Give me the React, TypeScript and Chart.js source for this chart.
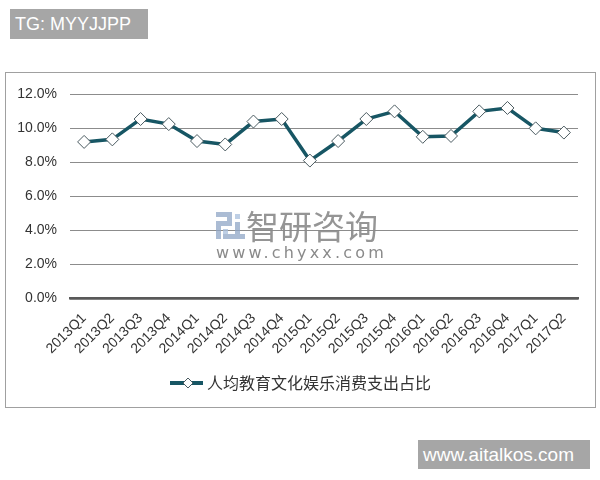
import React, { useEffect, useRef } from "react";
import { Chart, registerables } from "chart.js";

Chart.register(...registerables);

const categories = [
  "2013Q1", "2013Q2", "2013Q3", "2013Q4",
  "2014Q1", "2014Q2", "2014Q3", "2014Q4",
  "2015Q1", "2015Q2", "2015Q3", "2015Q4",
  "2016Q1", "2016Q2", "2016Q3", "2016Q4",
  "2017Q1", "2017Q2",
];

const shareValues = [
  9.2, 9.35, 10.55, 10.25,
  9.25, 9.05, 10.4, 10.55,
  8.1, 9.25, 10.55, 11.0,
  9.5, 9.55, 11.0, 11.2,
  10.0, 9.75,
];

const seriesName = "人均教育文化娱乐消费支出占比";

const LINE_COLOR = "#175664";
const MARKER_BORDER = "#4a5a60";

const legendPlugin = {
  id: "customLegend",
  afterDraw(chart: any) {
    const ctx = chart.ctx;
    const y = 310;
    ctx.save();
    ctx.strokeStyle = LINE_COLOR;
    ctx.lineWidth = 4;
    ctx.beginPath();
    ctx.moveTo(164, y);
    ctx.lineTo(197, y);
    ctx.stroke();
    const cx = 182;
    const r = 5;
    ctx.beginPath();
    ctx.moveTo(cx - r, y);
    ctx.lineTo(cx, y - r);
    ctx.lineTo(cx + r, y);
    ctx.lineTo(cx, y + r);
    ctx.closePath();
    ctx.fillStyle = "#ffffff";
    ctx.fill();
    ctx.strokeStyle = MARKER_BORDER;
    ctx.lineWidth = 1;
    ctx.stroke();
    ctx.fillStyle = "#333333";
    ctx.font = '16px "Noto Sans CJK SC", sans-serif';
    ctx.textBaseline = "middle";
    ctx.textAlign = "left";
    ctx.fillText(seriesName, 201, y);
    ctx.restore();
  },
};

function ChartCanvas() {
  const ref = useRef<HTMLCanvasElement | null>(null);
  useEffect(() => {
    if (!ref.current) return;
    const chart = new Chart(ref.current, {
      type: "line",
      data: {
        labels: categories,
        datasets: [
          {
            label: seriesName,
            data: shareValues,
            borderColor: LINE_COLOR,
            borderWidth: 3.5,
            backgroundColor: "#ffffff",
            pointStyle: "rectRot",
            pointRadius: 6.5,
            pointBackgroundColor: "#ffffff",
            pointBorderColor: MARKER_BORDER,
            pointBorderWidth: 1,
            tension: 0,
          },
        ],
      },
      options: {
        animation: false,
        responsive: false,
        maintainAspectRatio: false,
        layout: { padding: { top: 14, right: 17, left: 0, bottom: 38 } },
        plugins: {
          legend: { display: false },
          tooltip: { enabled: false },
        },
        scales: {
          x: {
            offset: true,
            grid: { display: false, drawTicks: false },
            border: { display: true, color: "#595959", width: 2.5 },
            ticks: {
              autoSkip: false,
              maxRotation: 45,
              minRotation: 45,
              padding: 12,
              color: "#333333",
              font: { family: '"Liberation Sans", Arial, sans-serif', size: 14 },
            },
            afterFit: (scale: any) => {
              scale.height = 70;
            },
          },
          y: {
            min: 0,
            max: 12,
            ticks: {
              stepSize: 2,
              padding: 13,
              color: "#333333",
              font: { family: '"Liberation Sans", Arial, sans-serif', size: 14 },
              callback: (v: any) => Number(v).toFixed(1) + "%",
            },
            grid: {
              drawTicks: false,
              color: (c: any) => (c.tick && c.tick.value === 0 ? "#595959" : "#8c8c8c"),
              lineWidth: (c: any) => (c.tick && c.tick.value === 0 ? 2.5 : 1),
            },
            border: { display: false },
            afterFit: (scale: any) => {
              scale.width = 64;
            },
          },
        },
      },
      plugins: [legendPlugin],
    });
    return () => chart.destroy();
  }, []);
  return (
    <canvas
      ref={ref}
      width={589}
      height={333}
      style={{ position: "absolute", left: 6, top: 73, width: 589, height: 333 }}
    />
  );
}

export default function App() {
  return (
    <div
      style={{
        position: "fixed",
        left: 0,
        top: 0,
        width: 600,
        height: 480,
        background: "#ffffff",
        overflow: "hidden",
        fontFamily: '"Liberation Sans", Arial, sans-serif',
      }}
    >
      <div
        style={{
          position: "absolute",
          left: 5,
          top: 72,
          width: 589,
          height: 334,
          border: "1px solid #a0a0a0",
        }}
      />
      <ChartCanvas />
      {/* center watermark */}
      <div style={{ position: "absolute", left: 216, top: 212, width: 30, height: 27, opacity: 0.75 }}>
        <div style={{ position: "absolute", left: 0, top: 0, width: 16, height: 5, background: "#8fa6c6" }} />
        <div style={{ position: "absolute", left: 11, top: 0, width: 5, height: 14, background: "#8fa6c6" }} />
        <div style={{ position: "absolute", left: 0, top: 9, width: 16, height: 5, background: "#8fa6c6" }} />
        <div style={{ position: "absolute", left: 0, top: 9, width: 5, height: 18, background: "#8fa6c6" }} />
        <div style={{ position: "absolute", left: 7, top: 17, width: 5, height: 5, background: "#a9bfdc" }} />
        <div style={{ position: "absolute", left: 19, top: 2, width: 5, height: 5, background: "#a9bfdc" }} />
        <div style={{ position: "absolute", left: 19, top: 10, width: 5, height: 17, background: "#8fa6c6" }} />
        <div style={{ position: "absolute", left: 7, top: 22, width: 22, height: 5, background: "#8fa6c6" }} />
      </div>
      <div
        style={{
          position: "absolute",
          left: 246,
          top: 206,
          fontFamily: '"Noto Sans CJK SC", sans-serif',
          fontSize: 33,
          lineHeight: "38px",
          color: "#8a8a8a",
          opacity: 0.9,
          whiteSpace: "nowrap",
        }}
      >
        智研咨询
      </div>
      <div
        style={{
          position: "absolute",
          left: 216,
          top: 243,
          fontFamily: '"DejaVu Sans", sans-serif',
          fontSize: 16,
          lineHeight: "20px",
          letterSpacing: 3.2,
          color: "#8a8a8a",
          whiteSpace: "nowrap",
        }}
      >
        www.chyxx.com
      </div>
      {/* corner labels */}
      <div
        style={{
          position: "absolute",
          left: 10,
          top: 9,
          width: 138,
          height: 30,
          background: "#a6a6a6",
          color: "#ffffff",
          fontSize: 18,
          lineHeight: "30px",
          paddingLeft: 5,
          boxSizing: "border-box",
          whiteSpace: "nowrap",
        }}
      >
        TG: MYYJJPP
      </div>
      <div
        style={{
          position: "absolute",
          left: 418,
          top: 440,
          width: 172,
          height: 29,
          background: "#a6a6a6",
          color: "#ffffff",
          fontSize: 19,
          lineHeight: "29px",
          paddingLeft: 5,
          boxSizing: "border-box",
          whiteSpace: "nowrap",
        }}
      >
        www.aitalkos.com
      </div>
    </div>
  );
}
